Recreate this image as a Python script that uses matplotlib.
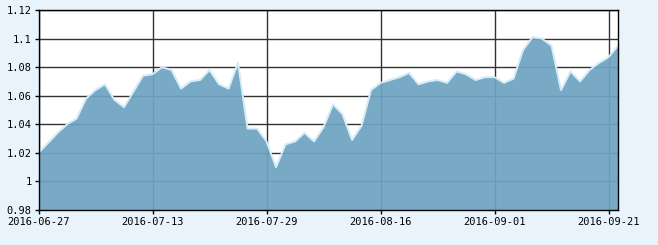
import numpy as np
import pandas as pd
import matplotlib
matplotlib.use("Agg")
import matplotlib.pyplot as plt
from matplotlib.ticker import FuncFormatter

# trading days (mid-autumn holiday 09-15/09-16 closed)
holidays = ["2016-09-15", "2016-09-16"]
dates = [d for d in pd.bdate_range("2016-06-27", "2016-09-22") if d.strftime("%Y-%m-%d") not in holidays]

values = [1.020, 1.027, 1.034, 1.040, 1.044, 1.058, 1.064, 1.068, 1.057, 1.052,
          1.063, 1.074, 1.075, 1.080, 1.078, 1.065, 1.070, 1.071, 1.078, 1.068,
          1.065, 1.083, 1.037, 1.037, 1.028, 1.010, 1.026, 1.028, 1.034, 1.028,
          1.038, 1.054, 1.047, 1.029, 1.039, 1.064, 1.069, 1.071, 1.073, 1.076,
          1.068, 1.070, 1.071, 1.069, 1.077, 1.075, 1.071, 1.073, 1.073, 1.069,
          1.072, 1.092, 1.101, 1.100, 1.095, 1.064, 1.077, 1.070, 1.078, 1.083,
          1.087, 1.095]

y_ticks = [0.98, 1.0, 1.02, 1.04, 1.06, 1.08, 1.1, 1.12]
tick_every = 12

x = np.arange(len(values))

fig = plt.figure(figsize=(6.58, 2.45), dpi=100)
fig.patch.set_facecolor("#e8f3fc")
ax = fig.add_axes([38.5 / 658, 35 / 245, (618 - 38.5) / 658, 200 / 245])
ax.set_facecolor("white")

ax.grid(True, color="#333333", linewidth=1, zorder=1)
ax.fill_between(x, 0.98, values, color="#6ea4c2", alpha=0.93, linewidth=0, zorder=2)
ax.plot(x, values, color="#d6ebf8", linewidth=1.4, zorder=3)

ax.set_xlim(0, len(values) - 1)
ax.set_ylim(0.98, 1.12)
ax.set_yticks(y_ticks)
ax.yaxis.set_major_formatter(FuncFormatter(lambda v, p: "%g" % round(v, 2)))
pos = x[::tick_every]
ax.set_xticks(pos)
ax.set_xticklabels([dates[i].strftime("%Y-%m-%d") for i in pos])

for s in ax.spines.values():
    s.set_color("black")
    s.set_linewidth(1)
    s.set_zorder(4)
ax.tick_params(length=3, width=1, color="black", labelsize=7.5, pad=2)
for lab in ax.get_xticklabels() + ax.get_yticklabels():
    lab.set_family("DejaVu Sans Mono")

fig.savefig("out.png", dpi=100, facecolor=fig.get_facecolor())
